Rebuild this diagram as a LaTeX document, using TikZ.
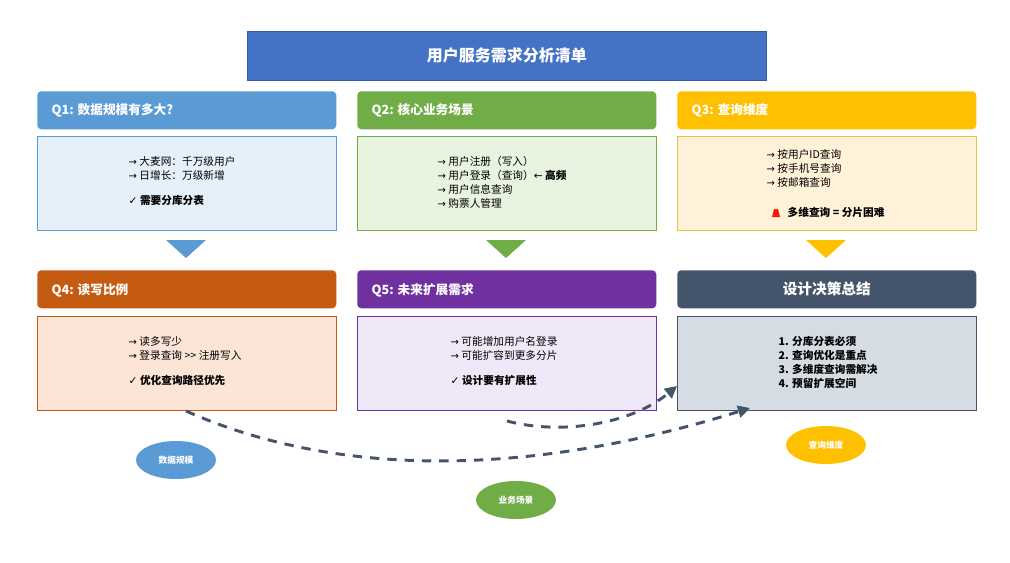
\documentclass[tikz,border=0pt]{standalone}
\usepackage{fontspec}
\setmainfont{Noto Sans CJK SC}
\newfontfamily\dv{DejaVu Sans}
\usetikzlibrary{arrows.meta,shapes.geometric}
\definecolor{cA}{HTML}{5B9BD5}\definecolor{cB}{HTML}{70AD47}\definecolor{cC}{HTML}{FFC000}
\definecolor{cD}{HTML}{C55A11}\definecolor{cE}{HTML}{7030A0}\definecolor{cF}{HTML}{44546A}
\definecolor{fA}{HTML}{E6F0FA}\definecolor{fB}{HTML}{E8F3E0}\definecolor{fC}{HTML}{FFF2D8}
\definecolor{fD}{HTML}{FCE4D6}\definecolor{fE}{HTML}{EFE8F8}\definecolor{fF}{HTML}{D5DCE4}
\definecolor{tt}{HTML}{4472C4}\definecolor{bC}{HTML}{E8C04A}
\newcommand{\ar}{{\dv\fontsize{7.5}{8}\selectfont →} }
\newcommand{\ck}{{\dv ✓}}
\begin{document}
\begin{tikzpicture}[x=0.75pt,y=-0.75pt,
 hdr/.style={draw=none,rounded corners=3pt,minimum width=299*0.75pt,minimum height=38*0.75pt,anchor=north west,text=white,font=\bfseries\fontsize{9.5}{11}\selectfont},
 body/.style={draw,line width=0.6pt,minimum width=299*0.75pt,minimum height=94*0.75pt,anchor=north west},
 txt/.style={align=left,font=\fontsize{8}{10.5}\selectfont,anchor=north west},
 ell/.style={ellipse,minimum width=80*0.75pt,minimum height=38*0.75pt,text=white,font=\bfseries\fontsize{6.5}{8}\selectfont,inner sep=0pt},
 dashcon/.style={draw=cF,line width=2.2pt,dash pattern=on 7pt off 6pt,-{Triangle[length=9pt,width=9pt]}}]
\path[use as bounding box,fill=white] (0,0) rectangle (1010,562);
\node[fill=tt,draw=tt!80!black,minimum width=519*0.75pt,minimum height=49*0.75pt,anchor=north west,text=white,font=\bfseries\fontsize{12}{14}\selectfont] (title) at (247,31) {用户服务需求分析清单};
% row 1
\node[hdr,fill=cA] (h1) at (37,91) {};
\node[anchor=west,text=white,font=\bfseries\fontsize{9.5}{11}\selectfont] (h1t) at (47,110) {Q1: 数据规模有多大?};
\node[hdr,fill=cB] (h2) at (357,91) {};
\node[anchor=west,text=white,font=\bfseries\fontsize{9.5}{11}\selectfont] (h2t) at (367,110) {Q2: 核心业务场景};
\node[hdr,fill=cC] (h3) at (677,91) {};
\node[anchor=west,text=white,font=\bfseries\fontsize{9.5}{11}\selectfont] (h3t) at (687,110) {Q3: 查询维度};
\node[body,draw=cA,fill=fA] (b1) at (37,136) {};
\node[body,draw=cB,fill=fB] (b2) at (357,136) {};
\node[body,draw=bC,fill=fC] (b3) at (677,136) {};
\node[txt] (t1) at (124,152) {\ar 大麦网：千万级用户\\\ar 日增长：万级新增\\[8pt]\ck\ \textbf{需要分库分表}};
\node[txt] (t2) at (433,152) {\ar 用户注册（写入）\\\ar 用户登录（查询）{\dv ←} \textbf{高频}\\\ar 用户信息查询\\\ar 购票人管理};
\node[txt] (t3) at (762,145) {\ar 按用户ID查询\\\ar 按手机号查询\\\ar 按邮箱查询};
\fill[red!80!orange] (772,217) -- (774,209) -- (778,209) -- (780,217) -- cycle;
\node[anchor=west,font=\bfseries\fontsize{8}{10}\selectfont] (t3b) at (783,212) {多维查询 = 分片困难};
% triangles
\fill[cA] (166,240) -- (206,240) -- (186,258) -- cycle;
\fill[cB] (486,240) -- (526,240) -- (506,258) -- cycle;
\fill[cC] (806,240) -- (846,240) -- (826,258) -- cycle;
% row 2
\node[hdr,fill=cD] (h4) at (37,270) {};
\node[anchor=west,text=white,font=\bfseries\fontsize{9.5}{11}\selectfont] (h4t) at (47,290) {Q4: 读写比例};
\node[hdr,fill=cE] (h5) at (357,270) {};
\node[anchor=west,text=white,font=\bfseries\fontsize{9.5}{11}\selectfont] (h5t) at (367,290) {Q5: 未来扩展需求};
\node[hdr,fill=cF,font=\bfseries\fontsize{11}{13}\selectfont] (h6) at (677,270) {设计决策总结};
\node[body,draw=cD,fill=fD] (b4) at (37,316) {};
\node[body,draw=cE,fill=fE] (b5) at (357,316) {};
\node[body,draw=cF,fill=fF] (b6) at (677,316) {};
\node[txt] (t4) at (124,332) {\ar 读多写少\\\ar 登录查询 {>}{>} 注册写入\\[8pt]\ck\ \textbf{优化查询路径优先}};
\node[txt] (t5) at (446,332) {\ar 可能增加用户名登录\\\ar 可能扩容到更多分片\\[8pt]\ck\ \textbf{设计要有扩展性}};
\node[txt,font=\bfseries\fontsize{8}{10.5}\selectfont] (t6) at (774,332) {1. 分库分表必须\\2. 查询优化是重点\\3. 多维度查询需解决\\4. 预留扩展空间};
% ellipses
\node[ell,fill=cA] (e1) at (176,460) {数据规模};
\node[ell,fill=cB] (e2) at (516,500) {业务场景};
\node[ell,fill=cC] (e3) at (826,445) {查询维度};
% dashed connectors
\coordinate (s1) at (186,411);
\coordinate (s2) at (507,421);
\coordinate (d1) at (750,408);
\coordinate (d2) at (677,386);
\draw[dashcon] (s1) .. controls (330,475) and (520,480) .. (d1);
\draw[dashcon] (s2) .. controls (560,435) and (630,425) .. (d2);
\end{tikzpicture}
\end{document}
